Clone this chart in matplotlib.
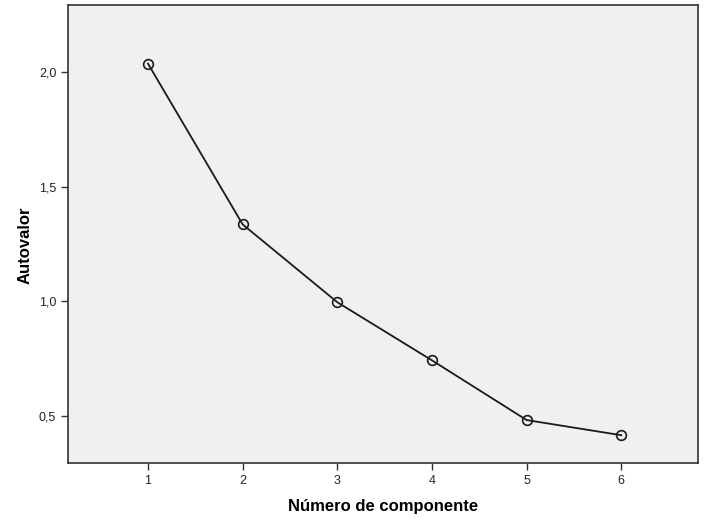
import matplotlib
matplotlib.use('Agg')
import matplotlib.pyplot as plt

componentes = [1, 2, 3, 4, 5, 6]
autovalores = [2.035, 1.335, 0.996, 0.743, 0.483, 0.417]
yTicks = [0.5, 1.0, 1.5, 2.0]
yTickLabels = ['0,5', '1,0', '1,5', '2,0']

plt.rcParams['font.family'] = ['Liberation Sans', 'DejaVu Sans']

fig = plt.figure(figsize=(7.09, 5.30), dpi=100)
ax = fig.add_axes([0.0959, 0.1264, 0.8886, 0.864])
ax.set_facecolor('#f0f0f0')

ax.plot(componentes, autovalores, color='#1a1a1a', linewidth=1.3,
        marker='o', markersize=7, markerfacecolor='none',
        markeredgecolor='#1a1a1a', markeredgewidth=1.2)

ax.set_xlim(0.155, 6.81)
ax.set_ylim(0.296, 2.29)
ax.set_xticks(componentes)
ax.set_xticklabels([str(c) for c in componentes])
ax.set_yticks(yTicks)
ax.set_yticklabels(yTickLabels)
ax.tick_params(axis='both', labelsize=9, length=5, width=1, color='#333333', labelcolor='#222222')

for spine in ax.spines.values():
    spine.set_color('#333333')
    spine.set_linewidth(1.2)

ax.set_xlabel('Número de componente', fontsize=12, fontweight='bold')
ax.set_ylabel('Autovalor', fontsize=12, fontweight='bold')
ax.xaxis.set_label_coords(0.5, -0.078)
ax.yaxis.set_label_coords(-0.056, 0.476)

fig.savefig('out.png', dpi=100)
